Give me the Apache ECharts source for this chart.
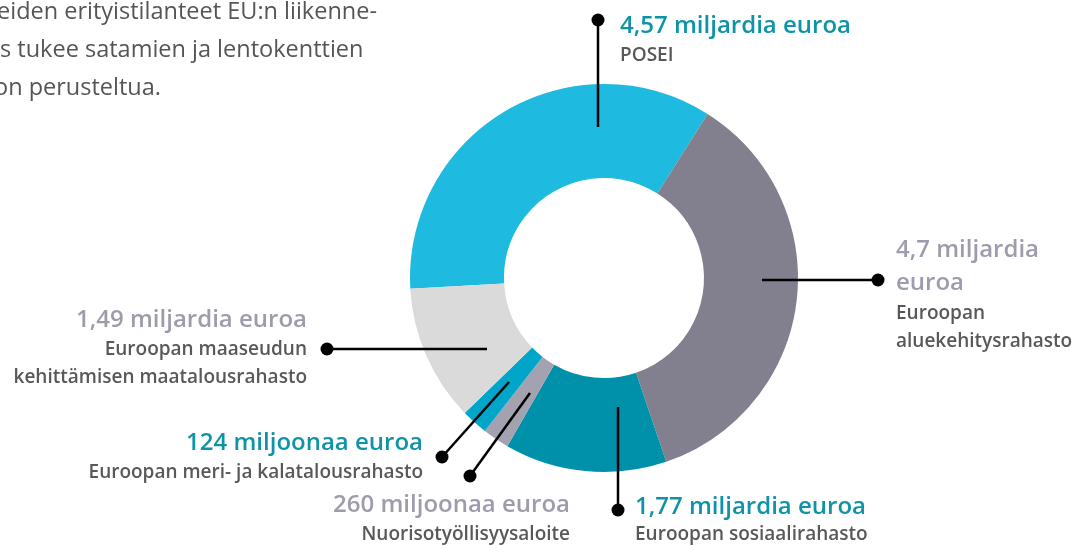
<!DOCTYPE html>
<html>
<head>
<meta charset="utf-8">
<script src="https://cdn.jsdelivr.net/npm/echarts@6/dist/echarts.min.js"></script>
<style>
  html, body { margin: 0; padding: 0; background: #fff; }
  #chart { width: 1088px; height: 545px; }
</style>
</head>
<body>
<div id="chart"></div>
<script>
// Funding sources (billion EUR)
const names = [
  'POSEI',
  'Euroopan aluekehitysrahasto',
  'Euroopan sosiaalirahasto',
  'Nuorisotyöllisyysaloite',
  'Euroopan meri- ja kalatalousrahasto',
  'Euroopan maaseudun kehittämisen maatalousrahasto'
]
const values = [4.57, 4.7, 1.77, 0.26, 0.124, 1.49]
const valueLabels = [
  ['4,57 miljardia euroa'],
  ['4,7 miljardia', 'euroa'],
  ['1,77 miljardia euroa'],
  ['260 miljoonaa euroa'],
  ['124 miljoonaa euroa'],
  ['1,49 miljardia euroa']
]
const nameLabels = [
  ['POSEI'],
  ['Euroopan', 'aluekehitysrahasto'],
  ['Euroopan sosiaalirahasto'],
  ['Nuorisotyöllisyysaloite'],
  ['Euroopan meri- ja kalatalousrahasto'],
  ['Euroopan maaseudun', 'kehittämisen maatalousrahasto']
]
const introLines = [
  'eiden erityistilanteet EU:n liikenne-',
  's tukee satamien ja lentokenttien',
  'on perusteltua.'
]

const sliceColors = ['#1fbadf', '#827f8e', '#0091aa', '#a4a2b0', '#00a6c9', '#dadada']
const TEAL = '#0e93a7'
const LILAC = '#9e9cac'
const DARK = '#585858'
const FONT = '"Open Sans", sans-serif'

// annotation layout: line from ring to dot, text anchor, line centres
const callouts = [
  { from: [598, 127], dot: [598, 20], tx: 620, align: 'left', valueColor: TEAL, valueY: [26], nameY: [56] },
  { from: [762, 280], dot: [878, 280], tx: 896, align: 'left', valueColor: LILAC, valueY: [250, 283], nameY: [314, 342] },
  { from: [618, 407], dot: [618, 510], tx: 635, align: 'left', valueColor: TEAL, valueY: [507], nameY: [535] },
  { from: [530, 393], dot: [470, 476], tx: 570, align: 'right', valueColor: LILAC, valueY: [505], nameY: [535] },
  { from: [509, 382], dot: [442, 457], tx: 423, align: 'right', valueColor: TEAL, valueY: [443], nameY: [473] },
  { from: [487, 349], dot: [327, 349], tx: 307, align: 'right', valueColor: LILAC, valueY: [320], nameY: [350, 378] }
]
const introX = [-3, 0, -6]

const chart = echarts.init(document.getElementById('chart'))

const graphics = []

function textLine(text, x, y, fill, size, weight, align) {
  return {
    type: 'text',
    x: x,
    y: y,
    z: 10,
    style: {
      text: text,
      fill: fill,
      fontFamily: FONT,
      fontSize: size,
      fontWeight: weight,
      align: align,
      verticalAlign: 'middle'
    }
  }
}

introLines.forEach((line, i) => {
  graphics.push(textLine(line, introX[i], 12 + i * 38, '#555555', 23.5, 400, 'left'))
})

callouts.forEach((c, i) => {
  graphics.push({
    type: 'line',
    shape: { x1: c.from[0], y1: c.from[1], x2: c.dot[0], y2: c.dot[1] },
    style: { stroke: '#000', lineWidth: 2.5 },
    z: 10
  })
  graphics.push({
    type: 'circle',
    shape: { cx: c.dot[0], cy: c.dot[1], r: 6.5 },
    style: { fill: '#000' },
    z: 10
  })
  valueLabels[i].forEach((t, k) => {
    graphics.push(textLine(t, c.tx, c.valueY[k], c.valueColor, 24, 600, c.align))
  })
  nameLabels[i].forEach((t, k) => {
    graphics.push(textLine(t, c.tx, c.nameY[k], DARK, 19, 600, c.align))
  })
})

chart.setOption({
  animation: false,
  series: [
    {
      type: 'pie',
      center: [604, 278],
      radius: [100, 194],
      startAngle: 183.2,
      clockwise: true,
      minAngle: 8,
      avoidLabelOverlap: false,
      label: { show: false },
      labelLine: { show: false },
      itemStyle: { borderWidth: 0 },
      emphasis: { disabled: true },
      data: names.map((name, i) => ({
        name,
        value: values[i],
        itemStyle: { color: sliceColors[i] }
      }))
    }
  ],
  graphic: graphics
})
</script>
</body>
</html>
